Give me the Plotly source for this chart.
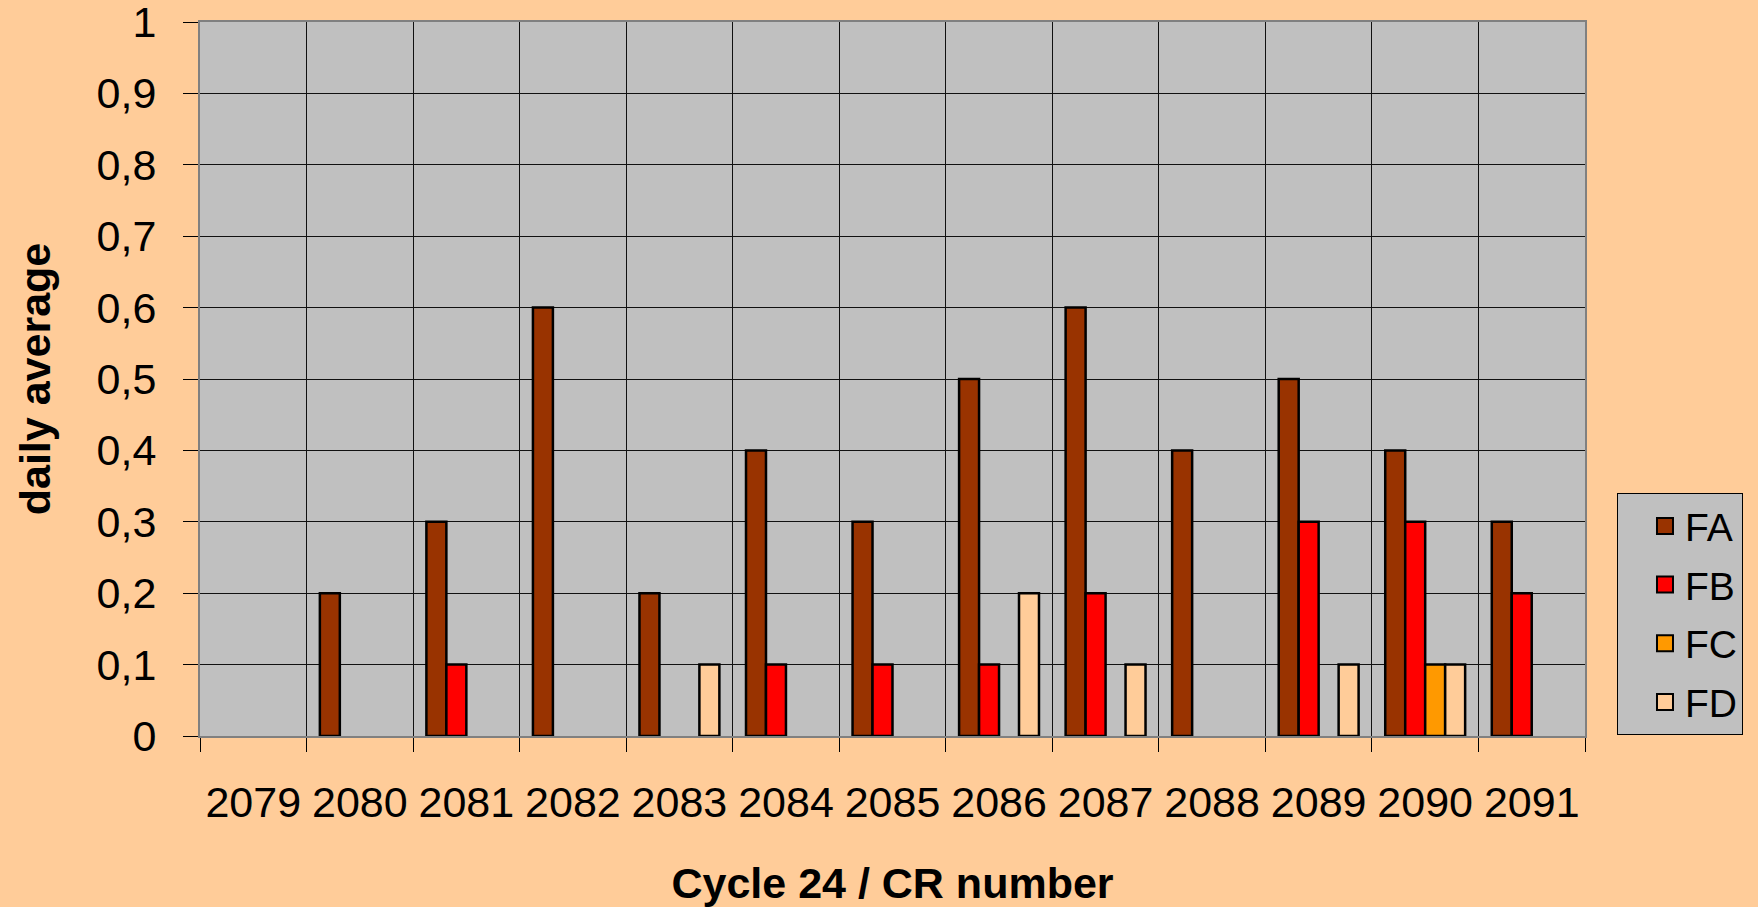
import plotly.graph_objects as go

# CR numbers (Cycle 24) and daily averages per flare class
categories = ["2079", "2080", "2081", "2082", "2083", "2084", "2085",
              "2086", "2087", "2088", "2089", "2090", "2091"]
fa = [None, 0.2, 0.3, 0.6, 0.2, 0.4, 0.3, 0.5, 0.6, 0.4, 0.5, 0.4, 0.3]
fb = [None, None, 0.1, None, None, 0.1, 0.1, 0.1, 0.2, None, 0.3, 0.3, 0.2]
fc = [None, None, None, None, None, None, None, None, None, None, None, 0.1, None]
fd = [None, None, None, None, 0.1, None, None, 0.2, 0.1, None, 0.1, 0.1, None]

series = [("FA", fa, "#993300"), ("FB", fb, "#FF0000"),
          ("FC", fc, "#FF9900"), ("FD", fd, "#FFCC99")]

FONT = "Liberation Sans, Arial, sans-serif"

fig = go.Figure()
for name, vals, color in series:
    fig.add_trace(go.Bar(
        x=categories, y=vals, name=name, legendgroup=name, showlegend=False,
        marker=dict(color=color, line=dict(color="black", width=2.5)),
    ))
    # legend-only entry so the key squares come out bigger
    fig.add_trace(go.Scatter(
        x=[None], y=[None], mode="markers", name=name, legendgroup=name,
        marker=dict(symbol="square", size=16, color=color,
                    line=dict(color="black", width=2)),
    ))

fig.update_layout(
    width=1758, height=907,
    paper_bgcolor="#FFCC99", plot_bgcolor="#C0C0C0",
    font=dict(family=FONT, size=43, color="black"),
    separators=", ",
    barmode="group", bargap=0.25, bargroupgap=0,
    margin=dict(l=200, r=173, t=22, b=171),
    legend=dict(
        x=1.0231, y=0.3403, xanchor="left", yanchor="top",
        bgcolor="#C0C0C0", bordercolor="black", borderwidth=1,
        font=dict(size=39), traceorder="grouped", tracegroupgap=5,
        itemsizing="trace", indentation=27,
    ),
    showlegend=True,
)

fig.update_xaxes(
    type="category", tickson="boundaries", automargin=False,
    showgrid=True, gridcolor="#111111", gridwidth=1,
    ticks="outside", ticklen=14, tickcolor="black", tickwidth=1,
    ticklabelstandoff=27,
    showline=True, linecolor="#808080", linewidth=2, mirror=True,
    title=dict(text="<b>Cycle 24 / CR number</b>", font=dict(size=43), standoff=43),
)
fig.update_yaxes(
    range=[0, 1.00001], dtick=0.1, tick0=0, automargin=False,
    showgrid=True, gridcolor="#111111", gridwidth=1,
    ticks="outside", ticklen=15, tickcolor="black", tickwidth=1,
    ticklabelstandoff=18, ticklabeloverflow="allow", zeroline=False,
    showline=True, linecolor="#808080", linewidth=2, mirror=True,
    title=dict(text="<b>daily average</b>", font=dict(size=43), standoff=33),
)

fig.write_html("out.html", config={"displayModeBar": False},
               post_script="document.body.style.margin='0';")
